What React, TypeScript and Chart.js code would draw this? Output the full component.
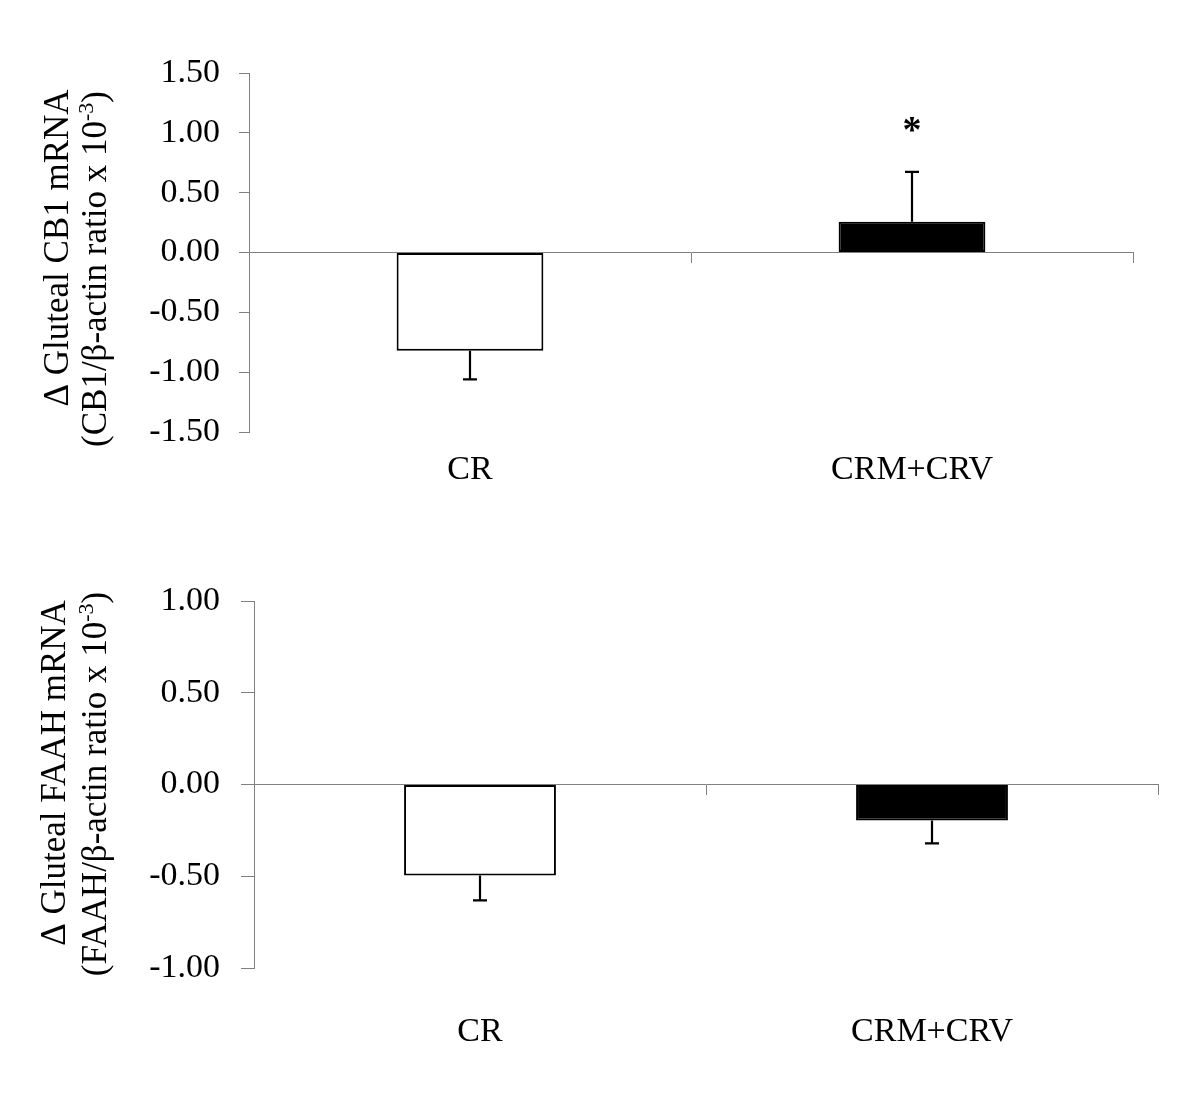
import React, { useEffect, useRef } from "react";
import { Chart, registerables } from "chart.js";

Chart.register(...registerables);

// ---------- data ----------
const categories = ["CR", "CRM+CRV"];
const barFill = ["#ffffff", "#000000"];

const cb1Means = [-0.82, 0.258];
const cb1Sem = [0.24, 0.416];
const cb1Sig = ["", "*"];
const cb1TickValues = [-1.5, -1.0, -0.5, 0.0, 0.5, 1.0, 1.5];
const cb1TitleLine1 = "Δ Gluteal CB1 mRNA";
const cb1TitleLine2 = "(CB1/β-actin ratio x 10";

const faahMeans = [-0.496, -0.196];
const faahSem = [0.136, 0.125];
const faahSig = ["", ""];
const faahTickValues = [-1.0, -0.5, 0.0, 0.5, 1.0];
const faahTitleLine1 = "Δ Gluteal FAAH mRNA";
const faahTitleLine2 = "(FAAH/β-actin ratio x 10";

const titleExponent = "-3";

const FONT = "'Liberation Serif', 'Times New Roman', serif";
const AXIS_GRAY = "#808080";

// ---------- plugins ----------
const errorBarPlugin = {
  id: "errorBars",
  afterDatasetsDraw(chart: any, _args: any, opts: any) {
    const meta = chart.getDatasetMeta(0);
    const yScale = chart.scales.y;
    const ctx = chart.ctx;
    ctx.save();
    ctx.strokeStyle = "#000";
    ctx.lineWidth = 2.2;
    meta.data.forEach((bar: any, i: number) => {
      const m = opts.means[i];
      const e = opts.errors[i];
      const end = m >= 0 ? m + e : m - e;
      const x = Math.round(bar.x);
      const y0 = bar.y;
      const y1 = yScale.getPixelForValue(end);
      ctx.beginPath();
      ctx.moveTo(x, y0);
      ctx.lineTo(x, y1);
      ctx.moveTo(x - 7, y1);
      ctx.lineTo(x + 7, y1);
      ctx.stroke();
      const s = opts.sig[i];
      if (s) {
        ctx.fillStyle = "#000";
        ctx.font = `bold 38px ${FONT}`;
        ctx.textAlign = "center";
        ctx.textBaseline = "alphabetic";
        ctx.fillText(s, x, y1 - 30);
      }
    });
    ctx.restore();
  },
};

const axisTitlePlugin = {
  id: "axisTitle",
  afterDraw(chart: any, _args: any, opts: any) {
    const ctx = chart.ctx;
    const size = opts.size;
    ctx.save();
    ctx.fillStyle = "#000";
    ctx.textBaseline = "alphabetic";
    ctx.textAlign = "left";
    // line 1
    ctx.save();
    ctx.translate(opts.x1, opts.cy1);
    ctx.rotate(-Math.PI / 2);
    ctx.font = `${size}px ${FONT}`;
    const w1 = ctx.measureText(opts.line1).width;
    ctx.fillText(opts.line1, -w1 / 2, 0);
    ctx.restore();
    // line 2 with superscript
    ctx.save();
    ctx.translate(opts.x2, opts.cy2);
    ctx.rotate(-Math.PI / 2);
    const supSize = Math.round(size * 0.62);
    ctx.font = `${size}px ${FONT}`;
    const wa = ctx.measureText(opts.line2).width;
    const wc = ctx.measureText(")").width;
    ctx.font = `${supSize}px ${FONT}`;
    const wb = ctx.measureText(opts.exp).width;
    let xs = -(wa + wb + wc) / 2;
    ctx.font = `${size}px ${FONT}`;
    ctx.fillText(opts.line2, xs, 0);
    xs += wa;
    ctx.font = `${supSize}px ${FONT}`;
    ctx.fillText(opts.exp, xs, -13);
    xs += wb;
    ctx.font = `${size}px ${FONT}`;
    ctx.fillText(")", xs, 0);
    ctx.restore();
    ctx.restore();
  },
};

// ---------- chart factory ----------
type PanelCfg = {
  width: number;
  height: number;
  area: { left: number; right: number; top: number; bottom: number };
  means: number[];
  errors: number[];
  sig: string[];
  ticks: number[];
  barPct: number;
  yTickLen: number;
  yPad: number;
  xPad: number;
  title: any;
};

function buildChart(canvas: HTMLCanvasElement, cfg: PanelCfg) {
  const tickFont = { family: FONT, size: 34 };
  return new Chart(canvas, {
    type: "bar",
    data: {
      labels: categories,
      datasets: [
        {
          data: cfg.means,
          backgroundColor: barFill,
          borderColor: "#000",
          borderWidth: 2,
          borderSkipped: false,
          categoryPercentage: 1,
          barPercentage: cfg.barPct,
        } as any,
      ],
    },
    options: {
      responsive: false,
      animation: false,
      devicePixelRatio: 1,
      layout: {
        padding: {
          left: 0,
          top: cfg.area.top,
          right: cfg.width - cfg.area.right,
          bottom: 0,
        },
      },
      plugins: {
        legend: { display: false },
        tooltip: { enabled: false },
        errorBars: { means: cfg.means, errors: cfg.errors, sig: cfg.sig },
        axisTitle: cfg.title,
      } as any,
      scales: {
        x: {
          type: "category",
          offset: true,
          grid: { display: false, drawTicks: false },
          border: { display: false },
          ticks: {
            color: "#000",
            font: tickFont,
            padding: cfg.xPad,
            maxRotation: 0,
            autoSkip: false,
          },
          afterFit: (s: any) => {
            s.height = cfg.height - cfg.area.bottom;
          },
        },
        xZero: {
          type: "category",
          position: { y: 0 },
          offset: true,
          grid: {
            offset: true,
            drawOnChartArea: false,
            drawTicks: true,
            tickLength: 10,
            color: AXIS_GRAY,
            lineWidth: 1,
          },
          border: { color: AXIS_GRAY, width: 1 },
          ticks: { display: false },
        },
        y: {
          type: "linear",
          min: cfg.ticks[0],
          max: cfg.ticks[cfg.ticks.length - 1],
          afterBuildTicks: (s: any) => {
            s.ticks = cfg.ticks.map((v) => ({ value: v }));
          },
          grid: {
            drawOnChartArea: false,
            tickLength: cfg.yTickLen,
            color: AXIS_GRAY,
            lineWidth: 1,
          },
          border: { color: AXIS_GRAY, width: 1 },
          ticks: {
            color: "#000",
            font: tickFont,
            padding: cfg.yPad,
            callback: (v: any) => Number(v).toFixed(2),
          },
          afterFit: (s: any) => {
            s.width = cfg.area.left;
          },
        },
      } as any,
    },
    plugins: [errorBarPlugin, axisTitlePlugin],
  });
}

function Panel({ cfg, top }: { cfg: PanelCfg; top: number }) {
  const ref = useRef<HTMLCanvasElement | null>(null);
  useEffect(() => {
    if (!ref.current) return;
    const chart = buildChart(ref.current, cfg);
    return () => chart.destroy();
  }, []);
  return (
    <canvas
      ref={ref}
      width={cfg.width}
      height={cfg.height}
      style={{
        position: "absolute",
        left: 0,
        top,
        width: cfg.width,
        height: cfg.height,
      }}
    />
  );
}

const topCfg: PanelCfg = {
  width: 1200,
  height: 540,
  area: { left: 249, right: 1133, top: 73, bottom: 432 },
  means: cb1Means,
  errors: cb1Sem,
  sig: cb1Sig,
  ticks: cb1TickValues,
  barPct: 0.332,
  yTickLen: 10,
  yPad: 19,
  xPad: 18,
  title: {
    size: 35,
    line1: cb1TitleLine1,
    line2: cb1TitleLine2,
    exp: titleExponent,
    x1: 68,
    cy1: 248,
    x2: 106,
    cy2: 269,
  },
};

const bottomCfg: PanelCfg = {
  width: 1200,
  height: 576,
  area: { left: 254, right: 1158, top: 61, bottom: 428 },
  means: faahMeans,
  errors: faahSem,
  sig: faahSig,
  ticks: faahTickValues,
  barPct: 0.336,
  yTickLen: 13,
  yPad: 21,
  xPad: 44,
  title: {
    size: 35,
    line1: faahTitleLine1,
    line2: faahTitleLine2,
    exp: titleExponent,
    x1: 65,
    cy1: 773 - 540,
    x2: 106,
    cy2: 784 - 540,
  },
};

export default function App() {
  return (
    <div
      style={{
        position: "absolute",
        left: 0,
        top: 0,
        width: 1200,
        height: 1116,
        background: "#fff",
      }}
    >
      <Panel cfg={topCfg} top={0} />
      <Panel cfg={bottomCfg} top={540} />
    </div>
  );
}
